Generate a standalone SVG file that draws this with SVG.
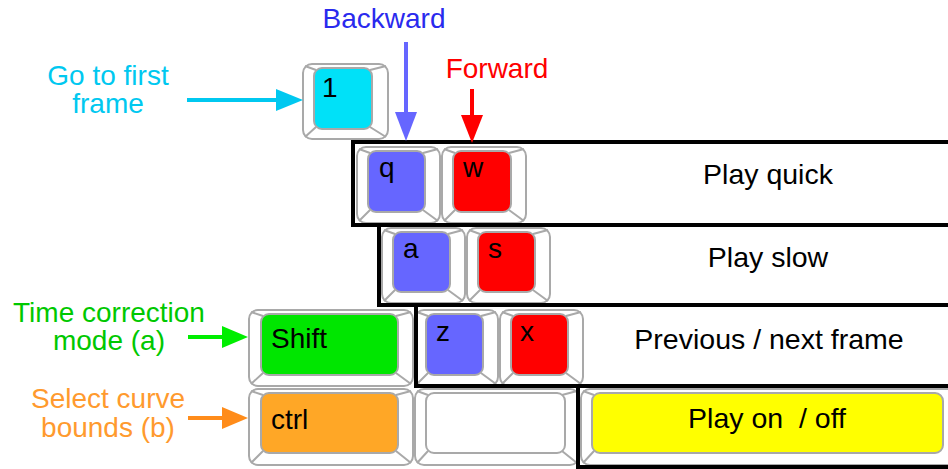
<svg xmlns="http://www.w3.org/2000/svg" width="948" height="469" viewBox="0 0 948 469">
  <style>
    text { font-family: "Liberation Sans", Arial, sans-serif; font-size: 28px; }
    .cap { fill: #ffffff; stroke: #a9a9a9; stroke-width: 2; }
    .top { stroke: #a9a9a9; stroke-width: 2; }
    .edge { fill: none; stroke: #a9a9a9; stroke-width: 2; }
    .key { fill: #000000; font-size: 28px; }
    .row { fill: none; stroke: #000000; stroke-width: 4; }
    .desc { fill: #000000; text-anchor: middle; font-size: 28.5px; }
    .side { text-anchor: middle; }
  </style>

  <!-- keycaps: outer rim, slanted edges, coloured top -->
  <g id="key-1">
    <rect class="cap" x="303" y="64" width="85" height="75" rx="9"/>
    <path class="edge" d="M305,66 L316,70 M386,66 L370,70 M305,137 L316,127 M386,137 L370,127"/>
    <rect class="top" x="314" y="68" width="58" height="61" rx="8" fill="#00e1f8"/>
    <text class="key" x="322" y="97">1</text>
  </g>

  <g id="key-q">
    <rect class="cap" x="357" y="147" width="83" height="76" rx="9"/>
    <path class="edge" d="M359,149 L370,153 M438,149 L423,153 M359,221 L370,210 M438,221 L423,210"/>
    <rect class="top" x="368" y="151" width="57" height="61" rx="8" fill="#6666ff"/>
    <text class="key" x="379" y="177">q</text>
  </g>

  <g id="key-w">
    <rect class="cap" x="442" y="147" width="84" height="76" rx="9"/>
    <path class="edge" d="M444,149 L455,153 M524,149 L509,153 M444,221 L455,210 M524,221 L509,210"/>
    <rect class="top" x="453" y="151" width="58" height="61" rx="8" fill="#ff0000"/>
    <text class="key" x="463" y="177">w</text>
  </g>

  <g id="key-a">
    <rect class="cap" x="382" y="228" width="83" height="75" rx="9"/>
    <path class="edge" d="M384,230 L395,234 M463,230 L448,234 M384,301 L395,290 M463,301 L448,290"/>
    <rect class="top" x="393" y="232" width="57" height="60" rx="8" fill="#6666ff"/>
    <text class="key" x="403" y="258">a</text>
  </g>

  <g id="key-s">
    <rect class="cap" x="467" y="228" width="83" height="75" rx="9"/>
    <path class="edge" d="M469,230 L480,234 M548,230 L533,234 M469,301 L480,290 M548,301 L533,290"/>
    <rect class="top" x="478" y="232" width="57" height="60" rx="8" fill="#ff0000"/>
    <text class="key" x="488" y="258">s</text>
  </g>

  <g id="key-shift">
    <rect class="cap" x="249" y="310" width="164" height="76" rx="9"/>
    <path class="edge" d="M251,312 L263,316 M411,312 L396,316 M251,384 L263,373 M411,384 L396,373"/>
    <rect class="top" x="261" y="314" width="137" height="61" rx="8" fill="#00e600"/>
    <text class="key" x="271" y="348">Shift</text>
  </g>

  <g id="key-z">
    <rect class="cap" x="415" y="310" width="83" height="76" rx="9"/>
    <path class="edge" d="M417,312 L428,316 M496,312 L481,316 M417,384 L428,373 M496,384 L481,373"/>
    <rect class="top" x="426" y="314" width="57" height="61" rx="8" fill="#6666ff"/>
    <text class="key" x="436" y="341">z</text>
  </g>

  <g id="key-x">
    <rect class="cap" x="500" y="310" width="83" height="76" rx="9"/>
    <path class="edge" d="M502,312 L513,316 M581,312 L566,316 M502,384 L513,373 M581,384 L566,373"/>
    <rect class="top" x="511" y="314" width="57" height="61" rx="8" fill="#ff0000"/>
    <text class="key" x="520" y="341">x</text>
  </g>

  <g id="key-ctrl">
    <rect class="cap" x="249" y="389" width="164" height="76" rx="9"/>
    <path class="edge" d="M251,391 L263,395 M411,391 L396,395 M251,463 L263,451 M411,463 L396,451"/>
    <rect class="top" x="261" y="393" width="137" height="60" rx="8" fill="#ffa726"/>
    <text class="key" x="271" y="429">ctrl</text>
  </g>

  <g id="key-blank">
    <rect class="cap" x="415" y="389" width="164" height="76" rx="9"/>
    <path class="edge" d="M417,391 L428,395 M577,391 L562,395 M417,463 L428,451 M577,463 L562,451"/>
    <rect class="top" x="426" y="393" width="139" height="60" rx="8" fill="#ffffff"/>
  </g>

  <g id="key-space">
    <rect class="cap" x="581" y="389" width="375" height="76" rx="9"/>
    <path class="edge" d="M583,391 L594,395 M583,463 L594,451"/>
    <rect class="top" x="592" y="393" width="351" height="60" rx="8" fill="#ffff00"/>
    <text class="desc" x="767" y="428" xml:space="preserve">Play on  / off</text>
  </g>

  <!-- row frames with their actions -->
  <g id="row-quick">
    <rect class="row" x="353" y="142" width="620" height="83"/>
    <text class="desc" x="768" y="184">Play quick</text>
  </g>
  <g id="row-slow">
    <rect class="row" x="379" y="225" width="600" height="80"/>
    <text class="desc" x="768" y="267">Play slow</text>
  </g>
  <g id="row-frame">
    <rect class="row" x="416" y="305" width="560" height="81"/>
    <text class="desc" x="769" y="349">Previous / next frame</text>
  </g>
  <g id="row-play">
    <rect class="row" x="578" y="386" width="400" height="81"/>
  </g>

  <!-- side labels -->
  <g id="label-first" fill="#00c8f0">
    <text class="side" x="108" y="85">Go to first</text>
    <text class="side" x="108" y="113">frame</text>
  </g>
  <g id="label-backward" fill="#2a2aee">
    <text class="side" x="384" y="28">Backward</text>
  </g>
  <g id="label-forward" fill="#ff0000">
    <text class="side" x="497" y="78">Forward</text>
  </g>
  <g id="label-time" fill="#00c800">
    <text class="side" x="109" y="322">Time correction</text>
    <text class="side" x="109" y="350">mode (a)</text>
  </g>
  <g id="label-select" fill="#ff9a2e">
    <text class="side" x="108" y="408">Select curve</text>
    <text class="side" x="108" y="437">bounds (b)</text>
  </g>

  <!-- arrows -->
  <g id="connectors" stroke-width="4">
    <line x1="187" y1="100" x2="280" y2="100" stroke="#00c8f0"/>
    <polygon points="276,89 303,100 276,111" fill="#00c8f0"/>

    <line x1="406" y1="42" x2="406" y2="116" stroke="#6666ff"/>
    <polygon points="395,112 417,112 406,141" fill="#6666ff"/>

    <line x1="472" y1="89" x2="472" y2="119" stroke="#ff0000"/>
    <polygon points="461,115 483,115 472,143" fill="#ff0000"/>

    <line x1="188" y1="337" x2="226" y2="337" stroke="#00ee00"/>
    <polygon points="222,326 248,337 222,348" fill="#00ee00"/>

    <line x1="188" y1="418" x2="226" y2="418" stroke="#ff8c1a"/>
    <polygon points="222,407 248,418 222,429" fill="#ff8c1a"/>
  </g>
</svg>
